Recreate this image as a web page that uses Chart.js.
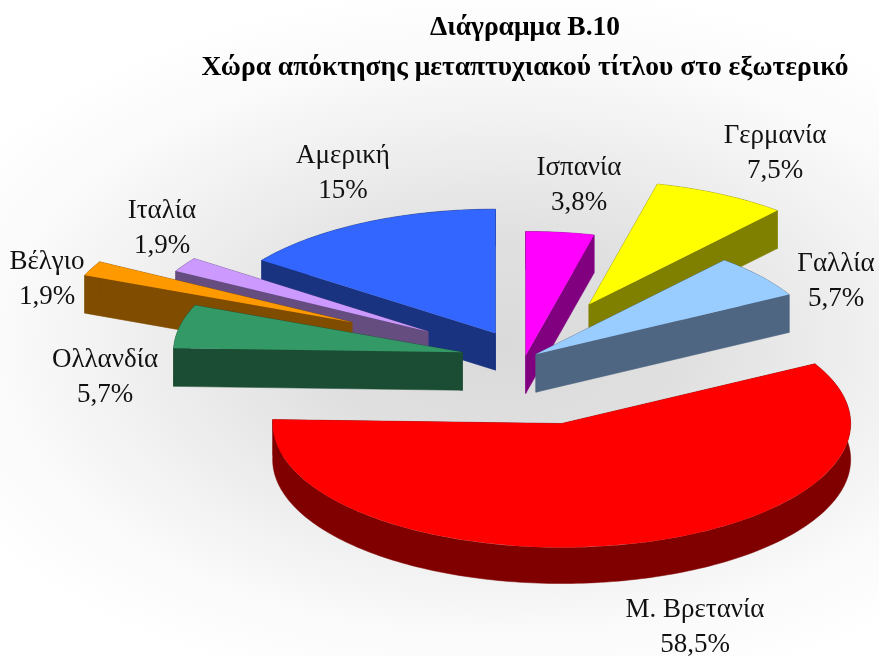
<!DOCTYPE html>
<html>
<head>
<meta charset="utf-8">
<style>html,body{margin:0;padding:0;background:#fff}canvas{display:block}</style>
<script src="https://cdn.jsdelivr.net/npm/chart.js@4"></script>
</head>
<body>
<canvas id="c" width="879" height="656"></canvas>
<script>
const titleLines = ['Διάγραμμα Β.10', 'Χώρα απόκτησης μεταπτυχιακού τίτλου στο εξωτερικό'];
const categories = ['Ισπανία', 'Γερμανία', 'Γαλλία', 'Μ. Βρετανία', 'Ολλανδία', 'Βέλγιο', 'Ιταλία', 'Αμερική'];
const values = [3.8, 7.5, 5.7, 58.5, 5.7, 1.9, 1.9, 15];

const topColors = ['#FF00FF', '#FFFF00', '#99CCFF', '#FF0000', '#339966', '#FF9900', '#CC99FF', '#3366FF'];
const wallColors = ['#800080', '#808000', '#4F6682', '#800000', '#1A4D33', '#804D00', '#654D80', '#193380'];
const explode = [6, 140, 14, 157, 64, 192, 115, 65];
const depths = [38, 38, 38, 36, 38, 38, 38, 37];
const drawOrder = [7, 6, 5, 4, 0, 1, 2, 3];
const labelCentres = [[579, 168], [775, 136], [836, 264], [695, 610], [105, 360], [47, 262], [162, 211], [343, 156]];
const labelLineGap = 35;
const squash = 124 / 289;
const pieRadius = 289;
const labelFont = '27px "Liberation Serif"';

function formatPct(v) { return String(v).replace('.', ',') + '%'; }

const pie3d = {
  id: 'pie3d',
  beforeDraw(chart) {
    const { ctx, width, height } = chart;
    ctx.save();
    ctx.fillStyle = '#fff';
    ctx.fillRect(0, 0, width, height);
    ctx.translate(500, 345);
    ctx.scale(1, 0.58);
    const g = ctx.createRadialGradient(0, 0, 0, 0, 0, 620);
    g.addColorStop(0, '#DADADA');
    g.addColorStop(0.3, '#E0E0E0');
    g.addColorStop(0.6, '#F0F0F0');
    g.addColorStop(0.8, '#FAFAFA');
    g.addColorStop(1, '#FFFFFF');
    ctx.fillStyle = g;
    ctx.fillRect(-700, -900, 1500, 1800);
    ctx.restore();
  },
  beforeDatasetDraw(chart) {
    const { ctx } = chart;
    const arcs = chart.getDatasetMeta(0).data;
    drawOrder.forEach(i => {
      const a = arcs[i];
      const depth = depths[i];
      const mid = (a.startAngle + a.endAngle) / 2;
      const ox = a.x + Math.cos(mid) * explode[i];
      const oy = a.y + Math.sin(mid) * explode[i] * squash;
      const pt = ang => [ox + a.outerRadius * Math.cos(ang), oy + a.outerRadius * squash * Math.sin(ang)];
      const steps = Math.max(2, Math.ceil((a.endAngle - a.startAngle) / 0.02));
      const rim = [];
      for (let s = 0; s <= steps; s++) rim.push(pt(a.startAngle + (a.endAngle - a.startAngle) * s / steps));
      ctx.save();
      ctx.fillStyle = wallColors[i];
      ctx.strokeStyle = wallColors[i];
      ctx.lineWidth = 0.5;
      const poly = list => {
        ctx.beginPath();
        list.forEach((p, n) => n ? ctx.lineTo(p[0], p[1]) : ctx.moveTo(p[0], p[1]));
        ctx.closePath();
        ctx.fill();
        ctx.stroke();
      };
      const down = p => [p[0], p[1] + depth];
      poly([[ox, oy], rim[0], down(rim[0]), [ox, oy + depth]]);
      poly([[ox, oy], rim[steps], down(rim[steps]), [ox, oy + depth]]);
      poly(rim.concat(rim.slice().reverse().map(down)));
      ctx.restore();
      ctx.save();
      ctx.translate(ox, oy);
      ctx.scale(1, squash);
      ctx.translate(-a.x, -a.y);
      a.draw(ctx);
      ctx.restore();
    });
    return false;
  },
  afterDatasetsDraw(chart) {
    const { ctx } = chart;
    ctx.save();
    ctx.font = labelFont;
    ctx.fillStyle = '#111';
    ctx.textAlign = 'center';
    ctx.textBaseline = 'middle';
    categories.forEach((name, i) => {
      const [x, y] = labelCentres[i];
      ctx.fillText(name, x, y);
      ctx.fillText(formatPct(values[i]), x, y + labelLineGap);
    });
    ctx.restore();
  }
};

new Chart(document.getElementById('c'), {
  type: 'pie',
  data: {
    labels: categories,
    datasets: [{ data: values, backgroundColor: topColors, borderWidth: 0 }]
  },
  options: {
    responsive: false,
    animation: false,
    radius: pieRadius,
    layout: { padding: { left: 198, right: 27, top: 8, bottom: 28 } },
    plugins: {
      legend: { display: false },
      tooltip: { enabled: false },
      title: {
        display: true,
        text: titleLines,
        fullSize: false,
        color: '#000',
        font: { family: '"Liberation Serif"', size: 27.5, weight: 'bold', lineHeight: 40 / 27.5 },
        padding: 0
      }
    }
  },
  plugins: [pie3d]
});
</script>
</body>
</html>
